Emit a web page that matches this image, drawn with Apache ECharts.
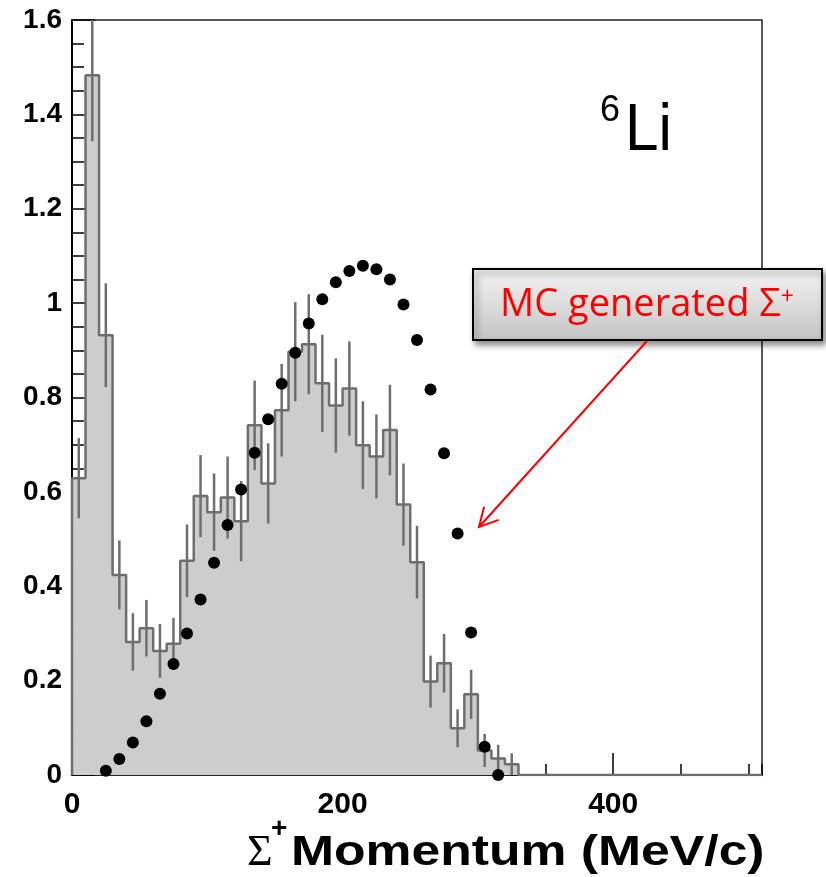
<!DOCTYPE html>
<html>
<head>
<meta charset="utf-8">
<script src="https://cdn.jsdelivr.net/npm/echarts@6/dist/echarts.min.js"></script>
<style>
  html, body { margin: 0; padding: 0; background: #fff; }
  #chart { width: 826px; height: 877px; }
</style>
</head>
<body>
<div id="chart"></div>
<script>
// Sigma+ momentum spectrum in 6Li: measured histogram (10 MeV/c bins) with errors,
// and the MC generated distribution as black points.
const binWidth = 10;
const binCenters = [5, 15, 25, 35, 45, 55, 65, 75, 85, 95, 105, 115, 125, 135, 145, 155,
  165, 175, 185, 195, 205, 215, 225, 235, 245, 255, 265, 275, 285, 295, 305, 315, 325];
const binContents = [0.629, 1.483, 0.932, 0.424, 0.282, 0.311, 0.263, 0.278, 0.454, 0.591,
  0.557, 0.588, 0.538, 0.741, 0.618, 0.773, 0.897, 0.913, 0.830, 0.783, 0.819, 0.699,
  0.675, 0.731, 0.573, 0.451, 0.198, 0.237, 0.099, 0.171, 0.052, 0.035, 0.023];
const binErrors = [0.085, 0.14, 0.11, 0.073, 0.061, 0.06, 0.057, 0.055, 0.077, 0.087,
  0.082, 0.087, 0.085, 0.095, 0.085, 0.098, 0.105, 0.106, 0.103, 0.1, 0.1, 0.093,
  0.089, 0.096, 0.087, 0.077, 0.055, 0.062, 0.04, 0.052, 0.035, 0.029, 0.023];

const mcMomentum = [25, 35, 45, 55, 65, 75, 85, 95, 105, 115, 125, 135, 145, 155, 165,
  175, 185, 195, 205, 215, 225, 235, 245, 255, 265, 275, 285, 295, 305, 315];
const mcValues = [0.009, 0.034, 0.069, 0.114, 0.172, 0.235, 0.300, 0.372, 0.450, 0.530,
  0.605, 0.683, 0.754, 0.829, 0.895, 0.957, 1.008, 1.044, 1.068, 1.079, 1.072, 1.050,
  0.997, 0.922, 0.817, 0.682, 0.512, 0.302, 0.060, 0.0];

const xTickLabels = ['0', '200', '400'];
const yTickLabels = ['0', '0.2', '0.4', '0.6', '0.8', '1', '1.2', '1.4', '1.6'];

const X_MIN = 0, X_MAX = 510, Y_MIN = 0, Y_MAX = 1.6;

// Step outline: one point at each bin's lower edge, closed down to zero after the last bin.
const stepData = [[X_MIN, 0]];
binCenters.forEach((c, i) => stepData.push([c - binWidth / 2, binContents[i]]));
stepData.push([binCenters[binCenters.length - 1] + binWidth / 2, 0]);
stepData.push([X_MAX, 0]);

const errorData = binCenters.map((c, i) => [c, binContents[i] - binErrors[i], binContents[i] + binErrors[i]]);
const mcData = mcMomentum.map((m, i) => [m, mcValues[i]]);

const histLine = '#6e6e6e';
const histFill = '#cdcdcd';
const labelFont = '"Liberation Sans", Arial, Helvetica, sans-serif';

const chart = echarts.init(document.getElementById('chart'), null, { renderer: 'canvas' });

// Arrow from the annotation box to the MC curve
const arrowFrom = [647, 341], arrowTo = [479, 527];
const dx = arrowFrom[0] - arrowTo[0], dy = arrowFrom[1] - arrowTo[1];
const len = Math.hypot(dx, dy);
const ux = dx / len, uy = dy / len;
const headLen = 21, headAng = 28 * Math.PI / 180;
function rot(x, y, a) { return [x * Math.cos(a) - y * Math.sin(a), x * Math.sin(a) + y * Math.cos(a)]; }
const h1 = rot(ux, uy, headAng), h2 = rot(ux, uy, -headAng);

chart.setOption({
  animation: false,
  backgroundColor: '#ffffff',
  grid: {
    left: 72, top: 20, width: 690, height: 755,
    show: true, borderColor: '#222', borderWidth: 1.5, backgroundColor: 'transparent'
  },
  xAxis: [
    {
      type: 'value', min: X_MIN, max: X_MAX, interval: 50, position: 'bottom',
      axisLine: { show: true, onZero: false, lineStyle: { color: '#222', width: 2 } },
      axisTick: { show: true, inside: true, length: 11, lineStyle: { color: '#000', width: 1.5 } },
      axisLabel: { show: false },
      splitLine: { show: false }
    },
    {
      type: 'value', min: X_MIN, max: X_MAX, interval: 200, position: 'bottom',
      axisLine: { show: false, onZero: false },
      axisTick: { show: true, inside: true, length: 22, lineStyle: { color: '#000', width: 1.5 } },
      axisLabel: {
        show: true, margin: 15, showMaxLabel: false,
        fontFamily: labelFont, fontWeight: 'bold', fontSize: 30, color: '#000',
        formatter: v => xTickLabels.includes(String(v)) ? String(v) : ''
      },
      splitLine: { show: false }
    }
  ],
  yAxis: {
    type: 'value', min: Y_MIN, max: Y_MAX, interval: 0.2,
    axisLine: { show: true, onZero: false, lineStyle: { color: '#000', width: 2 } },
    axisTick: { show: true, inside: true, length: 23, lineStyle: { color: '#000', width: 1.5 } },
    minorTick: { show: true, splitNumber: 4, length: 12, lineStyle: { color: '#000', width: 1.5 } },
    axisLabel: {
      show: true, margin: 10,
      fontFamily: labelFont, fontWeight: 'bold', fontSize: 28, color: '#000',
      formatter: v => {
        const s = String(Math.round(v * 10) / 10);
        return yTickLabels.includes(s) ? s : '';
      }
    },
    splitLine: { show: false }
  },
  series: [
    {
      name: 'data', type: 'line', step: 'end', xAxisIndex: 0,
      data: stepData, symbol: 'none', clip: true,
      lineStyle: { color: histLine, width: 2.5 },
      areaStyle: { color: histFill, opacity: 1 },
      z: 2
    },
    {
      name: 'errors', type: 'custom', xAxisIndex: 0, clip: true,
      data: errorData,
      renderItem: (params, api) => {
        const x = api.value(0);
        const p1 = api.coord([x, api.value(1)]);
        const p2 = api.coord([x, api.value(2)]);
        return {
          type: 'line',
          shape: { x1: p1[0], y1: p1[1], x2: p2[0], y2: p2[1] },
          style: { stroke: histLine, lineWidth: 2.5 }
        };
      },
      z: 3
    },
    {
      name: 'MC generated', type: 'scatter', xAxisIndex: 0,
      data: mcData, symbol: 'circle', symbolSize: 12,
      itemStyle: { color: '#000', opacity: 1 },
      z: 4
    }
  ],
  graphic: [
    // nucleus label
    { type: 'text', x: 600, y: 111, z: 10,
      style: { text: '6', font: '36px ' + labelFont, fill: '#000', align: 'left', verticalAlign: 'middle' } },
    { type: 'text', x: 625, y: 132, scaleX: 0.9, z: 10,
      style: { text: 'Li', font: '67px ' + labelFont, fill: '#000', align: 'left', verticalAlign: 'middle' } },
    // axis title
    { type: 'text', x: 247, y: 853, z: 10,
      style: { text: 'Σ', font: '44px "Liberation Serif", "DejaVu Serif", serif', fill: '#000', align: 'left', verticalAlign: 'middle' } },
    { type: 'text', x: 271, y: 829, z: 10,
      style: { text: '+', font: 'bold 28px ' + labelFont, fill: '#000', align: 'left', verticalAlign: 'middle' } },
    { type: 'text', x: 291, y: 853, scaleX: 1.23, z: 10,
      style: { text: 'Momentum (MeV/c)', font: 'bold 42px ' + labelFont, fill: '#000', align: 'left', verticalAlign: 'middle' } },
    // annotation box
    { type: 'rect', z: 20,
      shape: { x: 473, y: 269, width: 349, height: 71 },
      style: {
        fill: new echarts.graphic.LinearGradient(0, 0, 0, 1, [
          { offset: 0, color: '#f4f4f4' }, { offset: 1, color: '#c4c4c4' }
        ]),
        stroke: '#000', lineWidth: 2,
        shadowBlur: 6, shadowOffsetX: 3, shadowOffsetY: 4, shadowColor: 'rgba(0,0,0,0.45)'
      } },
    { type: 'text', x: 647, y: 305, z: 21,
      style: {
        text: '{a|MC generated Σ}{s|+}', align: 'center', verticalAlign: 'middle',
        rich: {
          a: { font: '38px "Open Sans", "Noto Sans", sans-serif', fill: '#ff0000', color: '#ff0000' },
          s: { font: '23px "Open Sans", "Noto Sans", sans-serif', fill: '#ff0000', color: '#ff0000', verticalAlign: 'top', padding: [0, 0, 14, 0] }
        }
      } },
    // arrow
    { type: 'line', z: 21,
      shape: { x1: arrowFrom[0], y1: arrowFrom[1], x2: arrowTo[0], y2: arrowTo[1] },
      style: { stroke: '#ff0000', lineWidth: 2 } },
    { type: 'polyline', z: 21,
      shape: { points: [
        [arrowTo[0] + h1[0] * headLen, arrowTo[1] + h1[1] * headLen],
        [arrowTo[0], arrowTo[1]],
        [arrowTo[0] + h2[0] * headLen, arrowTo[1] + h2[1] * headLen]
      ] },
      style: { stroke: '#ff0000', lineWidth: 2, fill: null } }
  ]
});
</script>
</body>
</html>
